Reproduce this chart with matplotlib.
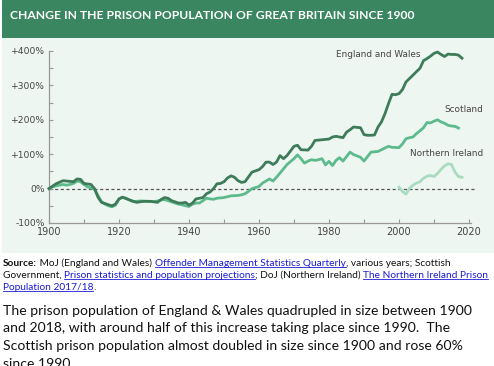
import matplotlib
matplotlib.use("Agg")
import matplotlib.pyplot as plt
from matplotlib.ticker import MultipleLocator, FuncFormatter
from matplotlib.patches import Rectangle

# % change in prison population since 1900
ew_years = [1900, 1902, 1904, 1906, 1907, 1908, 1909, 1910, 1912, 1913, 1914, 1915,
            1917, 1918, 1919, 1920, 1921, 1923, 1925, 1927, 1929, 1931, 1932, 1933,
            1934, 1935, 1937, 1938, 1939, 1940, 1941, 1942, 1943, 1944, 1945, 1946,
            1947, 1948, 1949, 1950, 1951, 1952, 1953, 1954, 1955, 1956, 1958, 1960,
            1961, 1962, 1963, 1964, 1965, 1966, 1967, 1968, 1970, 1971, 1972, 1974,
            1975, 1976, 1978, 1980, 1981, 1982, 1984, 1985, 1986, 1987, 1989, 1990,
            1991, 1992, 1993, 1994, 1995, 1996, 1997, 1998, 1999, 2000, 2001, 2002,
            2003, 2005, 2006, 2007, 2008, 2009, 2010, 2011, 2012, 2013, 2014, 2015,
            2016, 2017, 2018]
ew_change = [0, 14, 23, 21, 20, 28, 27, 15, 12, 0, -25, -40,
             -47, -50, -45, -30, -25, -33, -40, -37, -37, -40, -32, -26,
             -28, -35, -42, -42, -40, -48, -42, -30, -28, -26, -15, -10,
             0, 14, 15, 20, 31, 37, 33, 23, 18, 20, 48, 55,
             64, 77, 77, 70, 77, 96, 87, 96, 123, 126, 113, 112,
             123, 140, 142, 144, 150, 152, 148, 164, 171, 179, 177, 157,
             155, 155, 156, 179, 194, 218, 247, 274, 273, 276, 288, 310,
             320, 340, 350, 372, 378, 385, 393, 397, 390, 384, 391, 390,
             390, 388, 379]

sc_years = [1900, 1901, 1902, 1903, 1904, 1905, 1906, 1907, 1908, 1909, 1910, 1911,
            1912, 1913, 1914, 1915, 1916, 1917, 1918, 1919, 1920, 1921, 1922, 1923,
            1924, 1926, 1928, 1930, 1931, 1932, 1933, 1934, 1936, 1937, 1938, 1939,
            1940, 1941, 1942, 1943, 1944, 1945, 1946, 1947, 1948, 1950, 1952, 1954,
            1955, 1956, 1957, 1958, 1960, 1961, 1962, 1963, 1964, 1965, 1966, 1968,
            1970, 1971, 1972, 1973, 1974, 1975, 1976, 1977, 1978, 1979, 1980, 1981,
            1982, 1983, 1984, 1986, 1987, 1989, 1990, 1991, 1992, 1994, 1995, 1997,
            1998, 2000, 2001, 2002, 2003, 2004, 2005, 2006, 2007, 2008, 2009, 2010,
            2011, 2012, 2013, 2014, 2015, 2016, 2017]
sc_change = [0, 5, 8, 10, 12, 10, 12, 15, 22, 20, 12, 5,
             2, -2, -20, -38, -45, -50, -53, -48, -30, -25, -28, -33,
             -38, -36, -37, -38, -36, -33, -32, -35, -42, -45, -47, -50,
             -52, -45, -42, -42, -35, -28, -30, -31, -28, -26, -21, -20,
             -18, -15, -8, 0, 6, 16, 22, 28, 22, 33, 45, 70,
             87, 98, 87, 74, 80, 84, 82, 84, 87, 69, 79, 67,
             82, 90, 80, 106, 99, 91, 80, 93, 106, 108, 113, 123,
             120, 119, 130, 145, 148, 150, 160, 168, 177, 192, 191, 196,
             200, 194, 190, 184, 182, 181, 176]

ni_years = [2000, 2001, 2002, 2003, 2004, 2005, 2006, 2007, 2008, 2009, 2010, 2011,
            2012, 2013, 2014, 2015, 2016, 2017, 2018]
ni_change = [4, -8, -16, 1, 10, 16, 20, 30, 36, 38, 35, 44,
             56, 66, 72, 70, 48, 35, 33]

yticks = [-100, 0, 100, 200, 300, 400]
xticks = [1900, 1920, 1940, 1960, 1980, 2000, 2020]

header_green = "#3a8660"
mint = "#eef6f1"
ew_col = "#3e7c59"
sc_col = "#5dba8c"
ni_col = "#a9dcbf"
link_blue = "#1a1ad4"

fig = plt.figure(figsize=(4.94, 3.66), dpi=100)
W, H = 494, 366


def fx(px):
    return px / W


def fy(py):
    return 1 - py / H


# header band and mint panel (behind the axes)
fig.patches.append(Rectangle((fx(2), fy(38)), fx(492), 38 / H, transform=fig.transFigure,
                             facecolor=header_green, edgecolor="none", zorder=-2))
fig.patches.append(Rectangle((fx(2), fy(253)), fx(492), 215 / H, transform=fig.transFigure,
                             facecolor=mint, edgecolor="none", zorder=-2))
fig.text(fx(10), fy(19), "CHANGE IN THE PRISON POPULATION OF GREAT BRITAIN SINCE 1900",
         color="white", fontsize=8.7, fontweight="bold", family="Lato", va="baseline", ha="left")

ax = fig.add_axes([fx(49), fy(223), fx(469 - 49), (223 - 51) / H])
ax.set_facecolor("none")
ax.plot(ew_years, ew_change, color=ew_col, lw=2, clip_on=False, zorder=4)
ax.plot(sc_years, sc_change, color=sc_col, lw=2, clip_on=False, zorder=3)
ax.plot(ni_years, ni_change, color=ni_col, lw=2, clip_on=False, zorder=2)
ax.plot([1900, 2021.5], [0, 0], color="#555555", lw=0.9, ls=(0, (2.5, 2)), clip_on=False, zorder=1)

ax.set_xlim(1900, 2020)
ax.set_ylim(-100, 400)
ax.set_xticks(xticks)
ax.set_yticks(yticks)
ax.xaxis.set_minor_locator(MultipleLocator(10))
ax.yaxis.set_minor_locator(MultipleLocator(50))
ax.yaxis.set_major_formatter(FuncFormatter(lambda v, p: "0%" if v == 0 else f"{v:+.0f}%"))
ax.tick_params(which="both", direction="in", color="#999999", width=0.8)
ax.tick_params(which="major", length=3)
ax.tick_params(which="minor", length=3)
ax.tick_params(axis="y", labelsize=6.6, labelcolor="#444444", pad=3)
ax.tick_params(axis="x", labelsize=7, labelcolor="#444444", pad=3)
for s in ["top", "right"]:
    ax.spines[s].set_visible(False)
for s in ["left", "bottom"]:
    ax.spines[s].set_color("#999999")
    ax.spines[s].set_linewidth(0.9)
ax.spines["bottom"].set_bounds(1900, 2020.5)

lab = dict(fontsize=6.4, color="#444444", family="DejaVu Sans", va="center", ha="right")
ax.text(2006, 391, "England and Wales", **lab)
ax.text(2024, 231, "Scotland", clip_on=False, **lab)
ax.text(2024, 102, "Northern Ireland", clip_on=False, **lab)

# source note with bold lead-in and underlined links
renderer = fig.canvas.get_renderer()
src_lines = [
    [("Source:", "bold", None), (" MoJ (England and Wales) ", "normal", None),
     ("Offender Management Statistics Quarterly", "normal", link_blue),
     (", various years; Scottish", "normal", None)],
    [("Government, ", "normal", None),
     ("Prison statistics and population projections", "normal", link_blue),
     ("; DoJ (Northern Ireland) ", "normal", None),
     ("The Northern Ireland Prison", "normal", link_blue)],
    [("Population 2017/18", "normal", link_blue), (".", "normal", None)],
]
src_base = [265.5, 277.5, 289.5]
for pieces, py in zip(src_lines, src_base):
    x = fx(3)
    for txt, weight, col in pieces:
        t = fig.text(x, fy(py), txt, fontsize=7.3, fontweight=weight, family="Lato",
                     color=col or "#111111", va="baseline", ha="left")
        bb = t.get_window_extent(renderer).transformed(fig.transFigure.inverted())
        if col:
            fig.lines.append(plt.Line2D([bb.x0, bb.x1], [fy(py + 1.5)] * 2, color=col, lw=0.6,
                                        transform=fig.transFigure))
        x = bb.x1

body = ["The prison population of England & Wales quadrupled in size between 1900",
        "and 2018, with around half of this increase taking place since 1990.  The",
        "Scottish prison population almost doubled in size since 1900 and rose 60%",
        "since 1990."]
for line, py in zip(body, [315, 332.5, 350, 367.5]):
    fig.text(fx(3), fy(py), line, fontsize=10.1, family="Lato", color="#111111",
             va="baseline", ha="left")

fig.savefig("out.png", dpi=100)
